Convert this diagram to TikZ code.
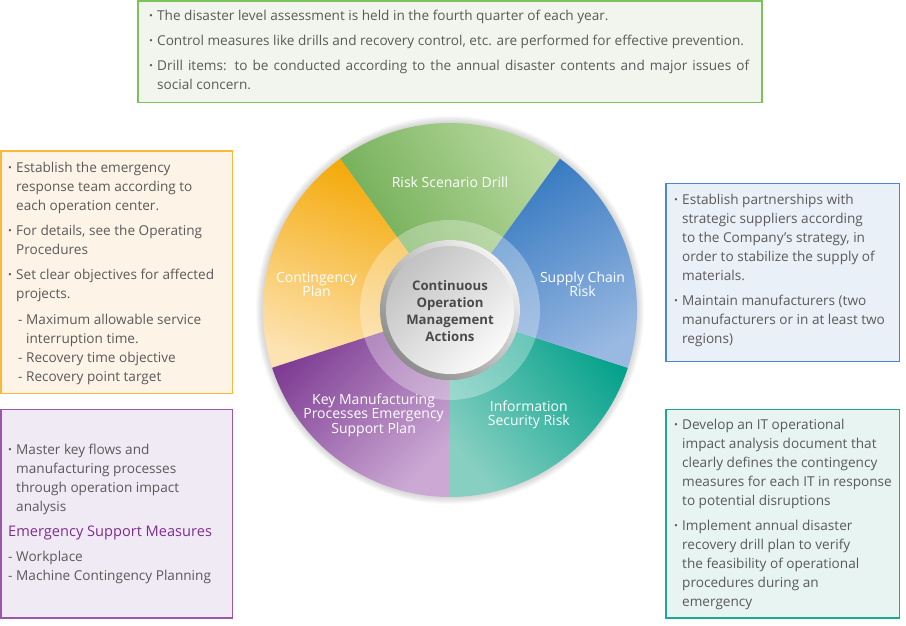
\documentclass[tikz,border=0pt]{standalone}
\usepackage{fontspec}
\setmainfont{Open Sans}
\usetikzlibrary{positioning}

\definecolor{txt}{HTML}{5A5A5A}
\definecolor{coretxt}{HTML}{4A4A4A}
\definecolor{grnline}{HTML}{7CC35E}
\definecolor{grnfill}{HTML}{F1F5EE}
\definecolor{orgline}{HTML}{F9B83A}
\definecolor{orgfill}{HTML}{FDF4E7}
\definecolor{purline}{HTML}{9B58AA}
\definecolor{purfill}{HTML}{F0EAF4}
\definecolor{purhead}{HTML}{7E2E8E}
\definecolor{bluline}{HTML}{4A88C9}
\definecolor{blufill}{HTML}{EAF0F8}
\definecolor{tealline}{HTML}{1EA792}
\definecolor{tealfill}{HTML}{E8F4F2}
% wheel colours, dark / light
\definecolor{grnA}{HTML}{6AAA4E}\definecolor{grnB}{HTML}{B9D9A0}
\definecolor{bluA}{HTML}{2F75BF}\definecolor{bluB}{HTML}{9AB9E2}
\definecolor{tealA}{HTML}{00A08A}\definecolor{tealB}{HTML}{86CFC1}
\definecolor{purA}{HTML}{7A3790}\definecolor{purB}{HTML}{CBA9D4}
\definecolor{orgA}{HTML}{F4A600}\definecolor{orgB}{HTML}{FDE3B2}

\newcommand{\bul}{\makebox[8pt][l]{\textbf{\textperiodcentered}}}
\newcommand{\indnt}[1][8pt]{\hspace*{#1}}
\newcommand{\subdash}{\makebox[8pt][l]{-}}

\begin{document}
\begin{tikzpicture}[x=1pt,y=1pt,
	infobox/.style={line width=1.4pt},
	infotext/.style={anchor=north west,inner sep=0pt,align=left,text=txt,font=\fontsize{13.6}{19}\selectfont},
	wedgelabel/.style={text=white,align=center,font=\fontsize{14}{14.2}\selectfont}]
	\useasboundingbox (0,0) rectangle (906,-626);
	\coordinate (c) at (450,-310);

	% soft shadow round the wheel
	\foreach \r in {1,...,7}
	{
		\fill[black,opacity=0.025] (c) circle (187+\r);
	}
	% the five segments
	\foreach \s/\ca/\cb/\sa/\la/\lr/\nm/\lbl in {
		54/grnA/grnB/120/90/128/drill/{Risk Scenario Drill},
		126/orgA/orgB/-20/169/136/conting/{Contingency\\Plan},
		198/purA/purB/45/234/130/keyproc/{Key Manufacturing\\Processes Emergency\\Support Plan},
		270/tealA/tealB/-50/307/131/infosec/{Information\\Security Risk},
		342/bluA/bluB/30/11/135/supply/{Supply Chain\\Risk}}
	{
		\shade[top color=\ca,bottom color=\cb,shading angle=\sa] (c) -- ([shift={(\s:187)}]c) arc[start angle=\s,end angle=\s+72,radius=187] -- cycle;
		\node[wedgelabel] (\nm) at ([shift={(\la:\lr)}]c) {\lbl};
	}
	% ring and centre disc
	\fill[white,opacity=0.3,even odd rule] (c) circle (90) circle (70);
	\shade[top color=black!45,bottom color=black!5,shading angle=135] (c) circle (70);
	\shade[top color=black!24,bottom color=black!2,shading angle=45] (c) circle (64);
	\node[align=center,text=coretxt,font=\bfseries\fontsize{13.2}{17}\selectfont] (core) at ([yshift=-1.5]c) {Continuous\\Operation\\Management\\Actions};

	% top box
	\draw[infobox,draw=grnline,fill=grnfill] (138,-1) rectangle (762,-102.5);
	\node[infotext] (drilltxt) at (149,-10) {\bul The disaster level assessment is held in the fourth quarter of each year.\\[6pt]
		\bul Control measures like drills and recovery control, etc. are performed for effective prevention.\\[6pt]
		\bul\makebox[592pt][s]{Drill items: to be conducted according to the annual disaster contents and major issues of}\\
		\indnt social concern.};

	% left boxes
	\draw[infobox,draw=orgline,fill=orgfill] (1,-151) rectangle (232.5,-393.5);
	\node[infotext] (contingtxt) at (8,-162) {\bul Establish the emergency\\
		\indnt response team according to\\
		\indnt each operation center.\\[6pt]
		\bul For details, see the Operating\\
		\indnt Procedures\\[6pt]
		\bul Set clear objectives for affected\\
		\indnt projects.\\[7pt]
		\indnt[10pt]\subdash Maximum allowable service\\
		\indnt[18pt]interruption time.\\
		\indnt[10pt]\subdash Recovery time objective\\
		\indnt[10pt]\subdash Recovery point target};

	\draw[infobox,draw=purline,fill=purfill] (1,-409.5) rectangle (232.5,-618);
	\node[infotext] (keyproctxt) at (8,-444) {\bul Master key flows and\\
		\indnt manufacturing processes\\
		\indnt through operation impact\\
		\indnt analysis\\[6pt]
		{\color{purhead}\fontsize{14.6}{19}\selectfont Emergency Support Measures}\\[6pt]
		\subdash Workplace\\
		\subdash Machine Contingency Planning};

	% right boxes
	\draw[infobox,draw=bluline,fill=blufill] (666,-183.5) rectangle (899.5,-361.5);
	\node[infotext] (supplytxt) at (674,-194) {\bul Establish partnerships with\\
		\indnt strategic suppliers according\\
		\indnt to the Company's strategy, in\\
		\indnt order to stabilize the supply of\\
		\indnt materials.\\[6pt]
		\bul Maintain manufacturers (two\\
		\indnt manufacturers or in at least two\\
		\indnt regions)};

	\draw[infobox,draw=tealline,fill=tealfill] (666,-409.5) rectangle (899.5,-618);
	\node[infotext] (infosectxt) at (674,-419) {\bul Develop an IT operational\\
		\indnt impact analysis document that\\
		\indnt clearly defines the contingency\\
		\indnt measures for each IT in response\\
		\indnt to potential disruptions\\[6pt]
		\bul Implement annual disaster\\
		\indnt recovery drill plan to verify\\
		\indnt the feasibility of operational\\
		\indnt procedures during an\\
		\indnt emergency};
\end{tikzpicture}
\end{document}
